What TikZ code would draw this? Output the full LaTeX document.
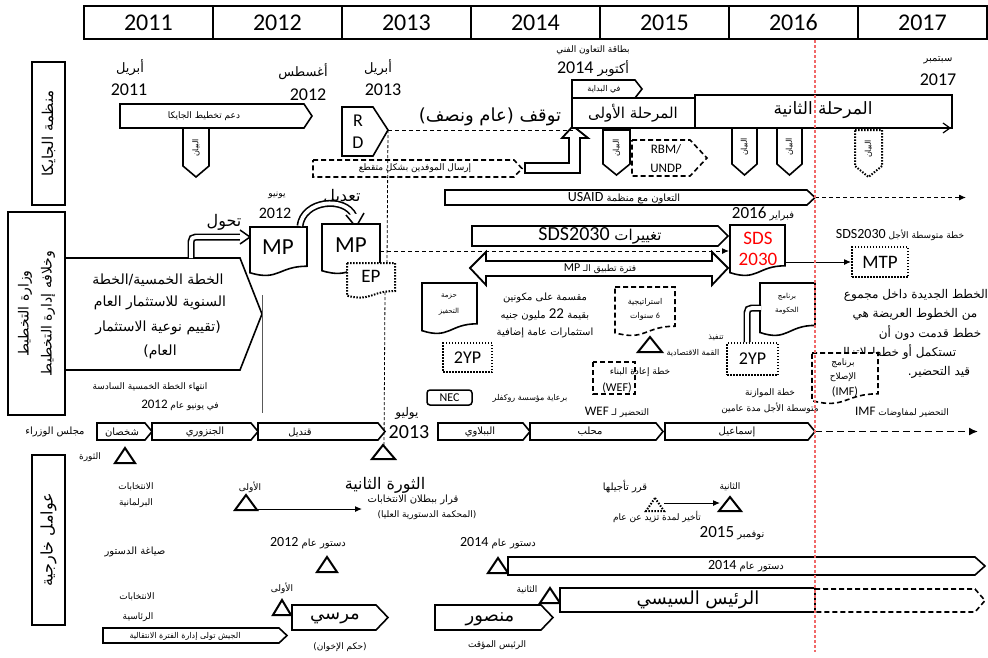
\documentclass[tikz,border=0pt]{standalone}
\usepackage{fontspec}
\setmainfont{Carlito}
\newfontfamily\arf[Script=Arabic]{DejaVu Sans}
\TeXXeTstate=1
\usetikzlibrary{arrows.meta}
\definecolor{redl}{RGB}{240,105,105}
\newcommand\fsz[1]{\fontsize{#1}{#1}\selectfont}
\newcommand\artxt[1]{{\arf\beginR#1\endR}}
\newcommand\ltrnum[1]{\beginL{\rmfamily#1}\endL{}}
\newcommand\pentR[6][]{\draw[box,#1] (#2,#3) -- ({#4-#6},#3) -- (#4,{(#3+#5)/2}) -- ({#4-#6},#5) -- (#2,#5) -- cycle;}
\newcommand\pentD[6][]{\draw[box,#1] (#2,#3) -- (#4,#3) -- (#4,{#5-#6}) -- ({(#2+#4)/2},#5) -- (#2,{#5-#6}) -- cycle;}
\newcommand\docshape[5][]{\draw[box,#1] (#2,#3) -- (#4,#3) -- (#4,{#3+0.8*(#5-#3)}) .. controls ({(#2+#4)/2},{#3+0.8*(#5-#3)}) and ({(#2+#4)/2},{#3+1.11*(#5-#3)}) .. (#2,{#3+0.934*(#5-#3)}) -- cycle;}
\begin{document}
\begin{tikzpicture}[x=1pt,y=-1pt,
  box/.style={draw=black, fill=white, line width=1.6pt, line join=miter},
  dsh/.style={dash pattern=on 5pt off 3pt},
  dtt/.style={dash pattern=on 1.5pt off 1.5pt, line width=2pt},
  tx/.style={inner sep=0pt, anchor=center},
  yearbox/.style={draw, line width=1.8pt, minimum width=129pt, minimum height=33pt, inner sep=0pt},
  catbox/.style={draw, line width=1.8pt, inner sep=0pt, rotate=90, align=center},
  rbox/.style={draw, fill=white, line width=1.6pt, inner sep=0pt},
  thinarrow/.style={line width=1pt, -{Latex[length=7pt,width=6pt]}},
  dline/.style={line width=1pt, dash pattern=on 4pt off 3pt},
  hollow/.style={double=white, double distance=3.8pt, line width=1.6pt},
]
\useasboundingbox (0,0) rectangle (988,657);
% header
\foreach \yr [count=\i from 0] in {2011,2012,2013,2014,2015,2016,2017}
  \node[yearbox, anchor=north west] (yr\yr) at ({83+129*\i},5) {\fsz{24}\yr};
% category boxes
\node[catbox, minimum width=143pt, minimum height=33pt] (catJ) at (48.5,133.5) {\fsz{15}\artxt{منظمة الجايكا}};
\node[catbox, minimum width=203pt, minimum height=57pt, font=\fontsize{14}{23}\selectfont] (catM) at (36.5,313.5) {\artxt{وزارة التخطيط}\\\artxt{وخلافه إدارة التخطيط}};
\node[catbox, minimum width=170pt, minimum height=33pt] (catE) at (48.5,540) {\fsz{16}\artxt{عوامل خارجية}};

% ===== JICA =====
\node[tx] (m1) at (130,68) {\fsz{13}\artxt{أبريل}};
\node[tx] (m1y) at (129,90) {\fsz{18}2011};
\node[tx] (m2) at (303,72) {\fsz{13}\artxt{أغسطس}};
\node[tx] (m2y) at (308,95) {\fsz{18}2012};
\pentR{120}{104}{312}{128}{8}
\node[tx] (jplan) at (204,116) {\fsz{9}\artxt{دعم تخطيط الجايكا}};
\pentD{183}{128}{209}{177}{11}
\node[tx, rotate=90] (b1) at (196,148) {\fsz{8}\artxt{البيان}};
\node[tx] (m3) at (378,68) {\fsz{13}\artxt{أبريل}};
\node[tx] (m3y) at (383,90) {\fsz{18}2013};
\draw[box] (342,107) -- (373,107) -- (388,130) -- (373,156) -- (342,156) -- cycle;
\coordinate (rdtip) at (388,130);
\node[tx] (rdR) at (358,121) {\fsz{18}R};
\node[tx] (rdD) at (358,143) {\fsz{18}D};
\node[tx] (stop) at (490,117) {\fsz{18}\artxt{توقف (عام ونصف)}};
\pentR[dsh]{313}{160}{522}{177}{8}
\node[tx] (send) at (415,168.5) {\fsz{9}\artxt{إرسال الموفدين بشكل متقطع}};
\draw[box, line width=1.8pt] (525,163) -- (569,163) -- (569,138) -- (562,138) -- (573,126) -- (588,138) -- (580,138) -- (580,173) -- (525,173) -- cycle;
\coordinate (hatip) at (573,130);
\draw[dline] (rdtip) -- (hatip);
\draw[line width=0.8pt, dash pattern=on 3pt off 2pt] (rdtip) -- (387,263);
\node[tx] (card) at (593,50) {\fsz{9}\artxt{بطاقة التعاون الفني}};
\node[tx] (oct) at (593,69) {\fsz{13}\artxt{أكتوبر \ltrnum{\fsz{18}2014}}};
\pentR{572}{80}{642}{98}{7}
\node[tx] (startp) at (604,89) {\fsz{8}\artxt{في البداية}};
\draw[box] (572,98) rectangle (695,128);
\node[tx] (ph1) at (633,113) {\fsz{15}\artxt{المرحلة الأولى}};
\draw[box] (695,95) rectangle (952,128);
\node[tx] (ph2) at (823,110) {\fsz{17}\artxt{المرحلة الثانية}};
\draw[line width=1.2pt, -{Straight Barb[length=7pt, width=10pt]}] (700,128) -- (951,128);
\node[tx] (sep) at (938,60) {\fsz{10}\artxt{سبتمبر}};
\node[tx] (sepy) at (938,80) {\fsz{18}2017};
\pentD{603}{130}{630}{175}{11}
\node[tx, rotate=90] (b2) at (616.5,148) {\fsz{8}\artxt{البيان}};
\pentD{732}{128}{757}{175}{11}
\node[tx, rotate=90] (b3) at (744.5,147) {\fsz{8}\artxt{البيان}};
\pentD{777}{128}{802}{175}{11}
\node[tx, rotate=90] (b4) at (789.5,147) {\fsz{8}\artxt{البيان}};
\pentD[dtt]{855}{130}{882}{177}{11}
\node[tx, rotate=90] (b5) at (868.5,149) {\fsz{8}\artxt{البيان}};
\draw[box,dsh] (632,140) -- (690,140) -- (707,158) -- (690,176) -- (632,176) -- cycle;
\node[tx] (rbm) at (666,149) {\fsz{13}RBM/};
\node[tx] (undp) at (666,168) {\fsz{13}UNDP};

% ===== USAID =====
\pentR{445}{190}{815}{205}{8}
\node[tx] (usaid) at (624,198) {\fsz{10}\artxt{التعاون مع منظمة \ltrnum{\fsz{14}USAID}}};
\coordinate (usR) at (815,197.5);
\coordinate (usEnd) at (966,197.5);
\draw[dline, -{Latex[length=7pt,width=6pt]}] (usR) -- (usEnd);

% ===== Ministry =====
\draw[box] (65,258) -- (240,258) -- (262,314) -- (240,370) -- (65,370) -- cycle;
\node[tx] (fp1) at (158,280) {\fsz{14}\artxt{الخطة الخمسية/الخطة}};
\node[tx] (fp2) at (160,303) {\fsz{14}\artxt{السنوية للاستثمار العام}};
\node[tx] (fp3) at (158,328) {\fsz{14}\artxt{(تقييم نوعية الاستثمار}};
\node[tx] (fp4) at (160,352) {\fsz{14}\artxt{العام)}};
\draw[gray!70!black, line width=0.8pt] (262,295) -- (262,413);
\node[tx] (end1) at (150,387) {\fsz{9}\artxt{انتهاء الخطة الخمسية السادسة}};
\node[tx] (end2) at (180,405) {\fsz{9}\artxt{في يونيو عام \ltrnum{\fsz{13}2012}}};
\node[tx] (tahawol) at (224,222) {\fsz{16}\artxt{تحول}};
\draw[hollow] (191,258) -- (191,247) .. controls (191,237) .. (201,237) -- (242,237);
\draw[line width=1.5pt, fill=white] (240,230) -- (250,237) -- (240,244);
\node[tx] (jun) at (277,195) {\fsz{9}\artxt{يونيو}};
\node[tx] (juny) at (275,213) {\fsz{16}2012};
\docshape{250}{227}{307}{276}
\node[tx] (mp1) at (278,247) {\fsz{23}MP};
\node[tx] (taadil) at (342,197) {\fsz{16}\artxt{تعديل}};
\draw[hollow] (300,226) .. controls (303,200) and (345,196) .. (354,216);
\draw[line width=1.5pt, fill=white] (346,215) -- (356,227) -- (364,213);
\docshape{322}{224}{380}{274}
\node[tx] (mp2) at (351,245) {\fsz{23}MP};
\coordinate (mp2R) at (380,251);
\docshape[dtt]{347}{263}{395}{298}
\node[tx] (ep) at (371,276) {\fsz{19}EP};
\draw[line width=0.8pt, dash pattern=on 3pt off 2pt] (385,292) -- (384,445);
\pentR{472}{226}{728}{246}{10}
\node[tx] (chg) at (600,236) {\fsz{15}\artxt{تغييرات \ltrnum{\fsz{20}SDS2030}}};
\docshape{730}{225}{785}{276}
\node[tx, text=red] (sds1) at (758,238) {\fsz{19}SDS};
\node[tx, text=red] (sds2) at (758,259) {\fsz{19}2030};
\coordinate (sdsL) at (729,251);
\coordinate (sdsR) at (785,262);
\draw[dline, -{Latex[length=7pt,width=6pt]}] (mp2R) -- (sdsL);
\node[tx] (feb) at (763,214) {\fsz{10}\artxt{فبراير \ltrnum{\fsz{17}2016}}};
\draw[box, line width=1.8pt] (470,268) -- (486,252) -- (486,261) -- (712,261) -- (712,252) -- (728,268) -- (712,285) -- (712,276) -- (486,276) -- (486,285) -- cycle;
\node[tx] (mpper) at (600,268.5) {\fsz{9}\artxt{فترة تطبيق الـ \ltrnum{\fsz{12}MP}}};
\docshape{422}{283}{477}{334}
\node[tx] (stim1) at (449,297) {\fsz{7}\artxt{حزمة}};
\node[tx] (stim2) at (449,312) {\fsz{7}\artxt{التحفيز}};
\node[tx] (sp1) at (545,298) {\fsz{10}\artxt{مقسمة على مكونين}};
\node[tx] (sp2) at (545,315) {\fsz{10}\artxt{بقيمة \ltrnum{\fsz{15}22} مليون جنيه}};
\node[tx] (sp3) at (545,333) {\fsz{10}\artxt{استثمارات عامة إضافية}};
\node[rbox, dtt, minimum width=49pt, minimum height=29pt] (yp1) at (467.5,357.5) {\fsz{18}2YP};
\docshape[dsh]{615}{287}{675}{336}
\node[tx] (str1) at (645,302) {\fsz{8}\artxt{استراتيجية}};
\node[tx] (str2) at (645,316) {\fsz{8}\artxt{\ltrnum{6} سنوات}};
\draw[box, line width=2pt] (650,337) -- (662,352) -- (638,352) -- cycle;
\node[tx] (tanf) at (716,338) {\fsz{8}\artxt{تنفيذ}};
\node[tx] (qimma) at (693,353) {\fsz{8}\artxt{القمة الاقتصادية}};
\draw[box, dsh] (593,362) rectangle (635,394);
\node[tx] (wef1) at (640,372) {\fsz{9}\artxt{خطة إعادة البناء}};
\node[tx] (wef2) at (617,388) {\fsz{12}(WEF)};
\node[rbox, dtt, minimum width=51pt, minimum height=32pt] (yp2) at (752.5,359) {\fsz{18}2YP};
\docshape{760}{283}{815}{336}
\node[tx] (gov1) at (787,297) {\fsz{7}\artxt{برنامج}};
\node[tx] (gov2) at (787,311) {\fsz{7}\artxt{الحكومة}};
\coordinate (govL) at (761,308);
\draw[hollow] (yp2.north -| 747,0) -- (747,318) .. controls (747,308) .. (757,308) -- (govL);
\node[tx] (mtpl) at (900,235) {\fsz{9}\artxt{خطة متوسطة الأجل \ltrnum{\fsz{14}SDS2030}}};
\node[rbox, dtt, minimum width=56pt, minimum height=30pt] (mtp) at (880,262) {\fsz{19}MTP};
\draw[thinarrow] (sdsR) -- (mtp.west);
\node[tx] (pa1) at (916,295) {\fsz{12}\artxt{الخطط الجديدة داخل مجموع}};
\node[tx] (pa2) at (915,314) {\fsz{12}\artxt{من الخطوط العريضة هي}};
\node[tx] (pa3) at (930,333) {\fsz{12}\artxt{خطط قدمت دون أن}};
\node[tx] (pa4) at (897,352) {\fsz{12}\artxt{تستكمل أو خطط لاتزال}};
\node[tx] (pa5) at (939,372) {\fsz{12}\artxt{قيد التحضير.}};
\docshape[dsh]{812}{353}{878}{404}
\node[tx] (imf1) at (843,363) {\fsz{9}\artxt{برنامج}};
\node[tx] (imf2) at (843,377) {\fsz{9}\artxt{الإصلاح}};
\node[tx] (imf3) at (845,392) {\fsz{12}(IMF)};
\node[tx] (bud1) at (770,393) {\fsz{9}\artxt{خطة الموازنة}};
\node[tx] (bud2) at (770,408) {\fsz{9}\artxt{متوسطة الأجل مدة عامين}};
\node[tx] (imfp) at (902,412) {\fsz{9}\artxt{التحضير لمفاوضات \ltrnum{\fsz{13}IMF}}};
\node[rbox, rounded corners=3pt, minimum width=45pt, minimum height=15pt, line width=1.5pt] (nec) at (449.5,397.5) {\fsz{12}NEC};
\node[tx] (rock) at (530,398) {\fsz{8}\artxt{برعاية مؤسسة روكفلر}};
\node[tx] (wefp) at (617,412) {\fsz{9}\artxt{التحضير لـ \ltrnum{\fsz{13}WEF}}};
\node[tx] (jul) at (407,413) {\fsz{12}\artxt{يوليو}};
\node[tx] (july) at (409,432) {\fsz{20}2013};

% ===== Cabinet =====
\node[tx] (cab) at (55,432) {\fsz{10}\artxt{مجلس الوزراء}};
\pentR{97}{423}{152}{440}{7}
\node[tx] (pm1) at (122,432) {\fsz{10}\artxt{شخصان}};
\pentR{152}{423}{258}{440}{7}
\node[tx] (pm2) at (205,432) {\fsz{10}\artxt{الجنزوري}};
\pentR{258}{423}{385}{440}{7}
\node[tx] (pm3) at (300,432) {\fsz{10}\artxt{قنديل}};
\pentR{438}{423}{530}{440}{7}
\node[tx] (pm4) at (480,432) {\fsz{10}\artxt{الببلاوي}};
\pentR{530}{423}{663}{440}{7}
\node[tx] (pm5) at (590,432) {\fsz{10}\artxt{محلب}};
\pentR{665}{423}{815}{440}{7}
\node[tx] (pm6) at (737,432) {\fsz{10}\artxt{إسماعيل}};
\coordinate (pmR) at (815,431.5);
\coordinate (pmEnd) at (978,431.5);
\draw[line width=1.6pt, dash pattern=on 7pt off 4pt, -{Latex[length=9pt,width=8pt]}] (pmR) -- (pmEnd);

% ===== External =====
\draw[box, line width=2pt] (125,448) -- (135,463) -- (115,463) -- cycle;
\node[tx] (rev1) at (90,457) {\fsz{9}\artxt{الثورة}};
\node[tx] (el1) at (136,487) {\fsz{9}\artxt{الانتخابات}};
\node[tx] (el2) at (136,503) {\fsz{9}\artxt{البرلمانية}};
\node[tx] (first1) at (250,487) {\fsz{9}\artxt{الأولى}};
\draw[box, line width=2pt] (246,495) -- (257,510) -- (235,510) -- cycle;
\coordinate (t1R) at (257,509);
\coordinate (t1End) at (362,509);
\draw[thinarrow] (t1R) -- (t1End);
\draw[box, line width=2pt] (383,445) -- (395,459) -- (372,459) -- cycle;
\node[tx] (rev2) at (385,485) {\fsz{16}\artxt{الثورة الثانية}};
\node[tx] (annul1) at (413,500) {\fsz{10}\artxt{قرار ببطلان الانتخابات}};
\node[tx] (annul2) at (427,515) {\fsz{9}\artxt{(المحكمة الدستورية العليا)}};
\node[tx] (dec) at (625,487) {\fsz{10}\artxt{قرر تأجيلها}};
\draw[dtt, fill=white] (655,498) -- (664,511) -- (646,511) -- cycle;
\coordinate (dtR) at (664,503);
\node[tx] (delay) at (657,517) {\fsz{9}\artxt{تأخير لمدة تزيد عن عام}};
\node[tx] (sec1) at (730,487) {\fsz{9}\artxt{الثانية}};
\draw[box, line width=2pt] (730,497) -- (741,511) -- (719,511) -- cycle;
\coordinate (t2L) at (720,503);
\draw[thinarrow] (dtR) -- (t2L);
\node[tx] (nov) at (732,533) {\fsz{10}\artxt{نوفمبر \ltrnum{\fsz{17}2015}}};
\node[tx] (draft) at (135,552) {\fsz{10}\artxt{صياغة الدستور}};
\node[tx] (c12) at (308,543) {\fsz{10}\artxt{دستور عام \ltrnum{\fsz{14}2012}}};
\draw[box, line width=2pt] (327,557) -- (337,572) -- (317,572) -- cycle;
\node[tx] (c14) at (498,543) {\fsz{10}\artxt{دستور عام \ltrnum{\fsz{14}2014}}};
\draw[box, line width=2pt] (498,558) -- (508,573) -- (488,573) -- cycle;
\pentR{508}{557}{985}{575}{10}
\node[tx] (c14b) at (746,566) {\fsz{10}\artxt{دستور عام \ltrnum{\fsz{14}2014}}};
\node[tx] (pel1) at (137,597) {\fsz{9}\artxt{الانتخابات}};
\node[tx] (pel2) at (138,617) {\fsz{9}\artxt{الرئاسية}};
\node[tx] (first2) at (282,588) {\fsz{9}\artxt{الأولى}};
\draw[box, line width=2pt] (282,600) -- (291,615) -- (273,615) -- cycle;
\pentR{292}{605}{388}{630}{12}
\node[tx] (morsi) at (335,618) {\fsz{18}\artxt{مرسي}};
\node[tx] (ikh) at (340,647) {\fsz{9}\artxt{(حكم الإخوان)}};
\pentR{435}{605}{553}{630}{12}
\node[tx] (mans) at (490,619) {\fsz{18}\artxt{منصور}};
\node[tx] (temp) at (497,645) {\fsz{9}\artxt{الرئيس المؤقت}};
\node[tx] (sec2) at (527,590) {\fsz{9}\artxt{الثانية}};
\draw[box, line width=2pt] (550,588) -- (560,603) -- (540,603) -- cycle;
\draw[box, dsh] (815,589) -- (975,589) -- (985,600.5) -- (975,612) -- (815,612);
\draw[box, line width=1.8pt] (560,588) rectangle (815,612);
\node[tx] (sisi) at (698,600) {\fsz{18}\artxt{الرئيس السيسي}};
\pentR{103}{628}{287}{643}{8}
\node[tx] (army) at (185,636) {\fsz{8}\artxt{الجيش تولى إدارة الفترة الانتقالية}};

% red line
\draw[redl, line width=1.2pt, dash pattern=on 3pt off 2pt] (yr2016.south -| 815,0) -- (815,652);
\end{tikzpicture}
\end{document}
